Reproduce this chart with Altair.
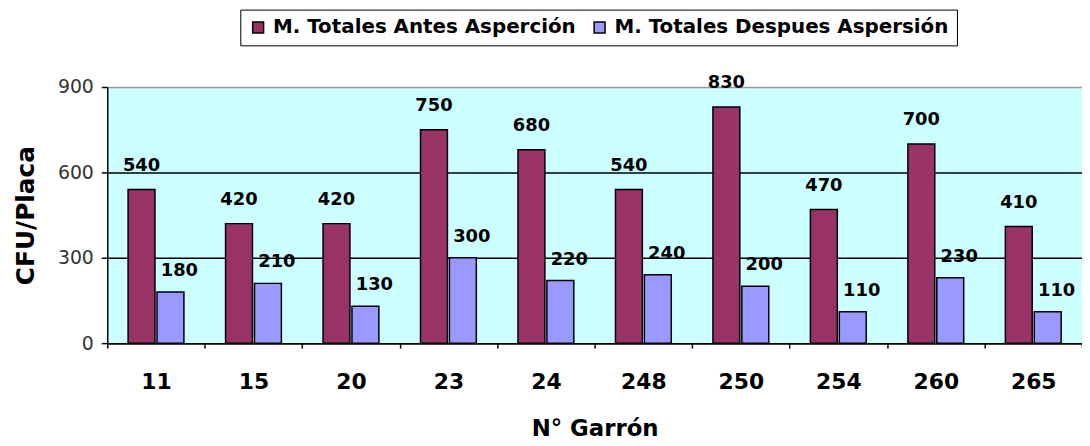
import altair as alt
import pandas as pd

garron = ["11", "15", "20", "23", "24", "248", "250", "254", "260", "265"]
antes = [540, 420, 420, 750, 680, 540, 830, 470, 700, 410]
despues = [180, 210, 130, 300, 220, 240, 200, 110, 230, 110]
series = ["M. Totales Antes Asperción", "M. Totales Despues Aspersión"]
colors = ["#993366", "#9999FF"]

rows = []
for g, a, d in zip(garron, antes, despues):
    rows.append({"garron": g, "serie": series[0], "valor": a})
    rows.append({"garron": g, "serie": series[1], "valor": d})
df = pd.DataFrame(rows)

BOLD = "DejaVu Sans"

x_enc = alt.X("garron:N", sort=garron,
              scale=alt.Scale(paddingInner=0, paddingOuter=0),
              axis=alt.Axis(title="N° Garrón", labelAngle=0, tickBand="extent",
                            labelFont=BOLD, labelFontWeight="bold", labelFontSize=22,
                            labelColor="black", labelPadding=24,
                            titleFont=BOLD, titleFontWeight="bold", titleFontSize=23,
                            titleColor="black", titlePadding=25,
                            domainColor="black", domainWidth=1.5,
                            tickColor="black", tickSize=5, tickWidth=1.5, grid=False))
xo_enc = alt.XOffset("serie:N", sort=series,
                     scale=alt.Scale(paddingInner=0.07, paddingOuter=0.72))
y_enc = alt.Y("valor:Q",
              scale=alt.Scale(domain=[0, 900], nice=False),
              axis=alt.Axis(title="CFU/Placa", values=[0, 300, 600, 900],
                            labelFont=BOLD, labelFontSize=19, labelColor="#333333",
                            labelPadding=8,
                            titleFont=BOLD, titleFontWeight="bold", titleFontSize=25,
                            titleColor="black", titlePadding=19,
                            domainColor="black", domainWidth=1.5,
                            tickColor="black", tickSize=6, tickWidth=1.5,
                            grid=True,
                            gridColor=alt.condition("datum.value == 900", alt.value("#999999"), alt.value("black")),
                            gridWidth=1.5))

base = alt.Chart(df)

bars = base.mark_bar(stroke="black", strokeWidth=1.5).encode(
    x=x_enc, xOffset=xo_enc, y=y_enc,
    color=alt.Color("serie:N", sort=series,
                    scale=alt.Scale(domain=series, range=colors),
                    legend=alt.Legend(title=None, orient="none", legendX=134, legendY=-78,
                                      direction="horizontal", columns=2,
                                      symbolType="square", symbolSize=121,
                                      symbolStrokeColor="black", symbolStrokeWidth=1.5,
                                      symbolOpacity=1,
                                      labelFont=BOLD, labelFontWeight="bold", labelFontSize=20,
                                      labelColor="black", labelOffset=5, columnPadding=13,
                                      labelLimit=400,
                                      padding=8, strokeColor="black", fillColor="white")),
)

lab_a = base.transform_filter(alt.datum.serie == series[0]).mark_text(
    font=BOLD, fontWeight="bold", fontSize=18, color="black",
    baseline="alphabetic", dy=-19).encode(
    x=x_enc, xOffset=xo_enc, y=y_enc, text="valor:Q")
lab_d = base.transform_filter(alt.datum.serie == series[1]).mark_text(
    font=BOLD, fontWeight="bold", fontSize=18, color="black",
    baseline="alphabetic", dy=-16, dx=9).encode(
    x=x_enc, xOffset=xo_enc, y=y_enc, text="valor:Q")

chart = alt.layer(bars, lab_a, lab_d).properties(
    width=982, height=258,
    autosize=alt.AutoSizeParams(type="none"),
    padding={"left": 100, "top": 78, "right": 0, "bottom": 102},
).configure_view(fill="#CCFFFF", stroke=None)

chart.save("out.html", embed_options={"renderer": "svg", "actions": False})
